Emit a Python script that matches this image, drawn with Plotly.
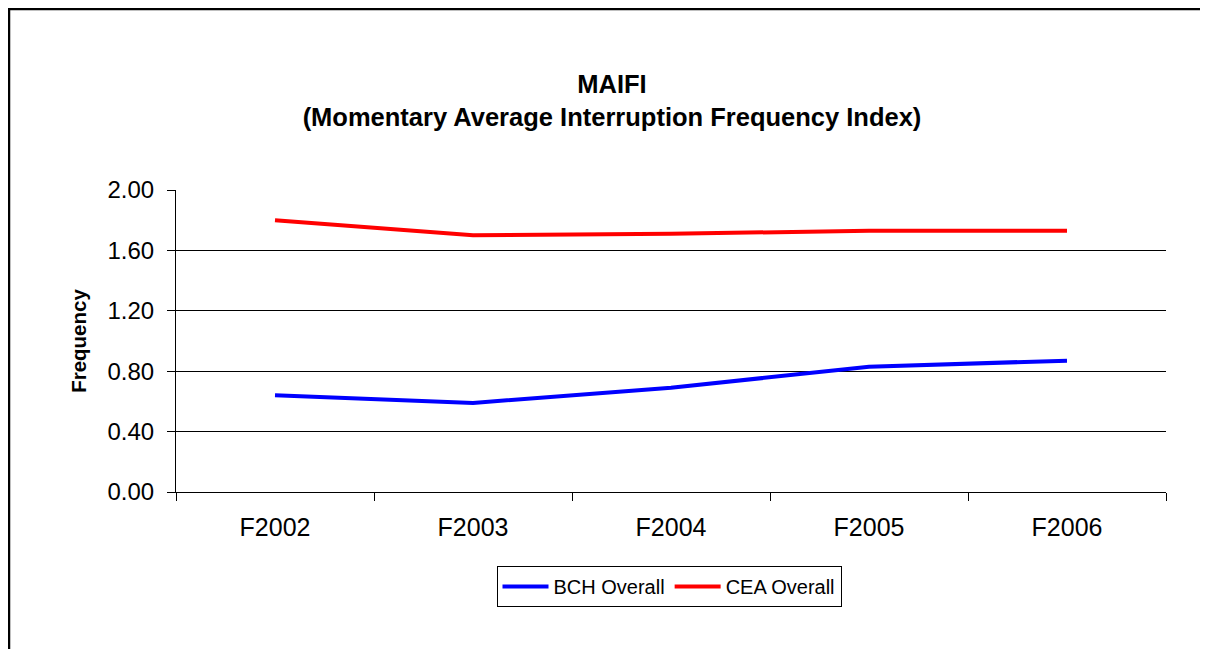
import plotly.graph_objects as go

categories = ["F2002", "F2003", "F2004", "F2005", "F2006"]
bch_overall = [0.64, 0.59, 0.69, 0.83, 0.87]
cea_overall = [1.80, 1.70, 1.71, 1.73, 1.73]
y_ticks = [0.0, 0.4, 0.8, 1.2, 1.6, 2.0]

# page body has an 8px offset; figure coordinates = page coordinates - 8
OFF = 8
W, H = 1208 - OFF, 649 - OFF
L, R, T, B = 176 - OFF, 1166 - OFF, 190 - OFF, 492 - OFF

fig = go.Figure()
fig.add_trace(go.Scatter(x=categories, y=bch_overall, mode="lines", name="BCH Overall",
                         line=dict(color="#0000FF", width=4)))
fig.add_trace(go.Scatter(x=categories, y=cea_overall, mode="lines", name="CEA Overall",
                         line=dict(color="#FF0000", width=4)))

pw, ph = R - L, B - T
def fx(x):  # figure pixel -> paper
    return (x - L) / pw
def fy(y):
    return (B - y) / ph
def px(x):  # page pixel -> paper
    return fx(x - OFF)
def py(y):
    return fy(y - OFF)

bx0, by0 = fx(1), fy(1)
bx1, by1 = fx(W - 2), fy(H)
border_path = f"M {bx0} {by1} L {bx0} {by0} L {bx1} {by0}"

fig.update_layout(
    width=W, height=H,
    margin=dict(l=L, r=W - R, t=T, b=H - B, pad=0),
    paper_bgcolor="white", plot_bgcolor="white",
    font=dict(family="Liberation Sans, Arial, sans-serif", color="black"),
    title=dict(text="<b>MAIFI<br>(Momentary Average Interruption Frequency Index)</b>",
               xref="container", x=(612 - OFF) / W, xanchor="center",
               yref="container", y=1 - 85 / H, yanchor="top",
               font=dict(size=25.5, color="black")),
    xaxis=dict(type="category", tickson="boundaries", ticks="outside", ticklen=8,
               tickcolor="black", showline=True, linecolor="black", linewidth=1,
               showgrid=False, tickfont=dict(size=25), ticklabelstandoff=13,
               range=[-0.5, 4.5]),
    yaxis=dict(range=[0, 2], tickvals=y_ticks, tickformat=".2f", ticks="outside",
               ticklen=8, tickcolor="black", showline=True, linecolor="black",
               linewidth=1, showgrid=True, gridcolor="black", gridwidth=1,
               zeroline=False, tickfont=dict(size=24), ticklabelstandoff=8,
               title=dict(text="<b>Frequency</b>", font=dict(size=20.5), standoff=15)),
    legend=dict(orientation="h", x=px(669), xanchor="center", y=py(566), yanchor="top",
                bordercolor="black", borderwidth=1, font=dict(size=20),
                itemwidth=46, tracegroupgap=0, bgcolor="white"),
    showlegend=True,
    shapes=[dict(type="path", xref="paper", yref="paper", path=border_path,
                 line=dict(color="black", width=2.5), layer="below")],
)

fig.write_html("out.html")
